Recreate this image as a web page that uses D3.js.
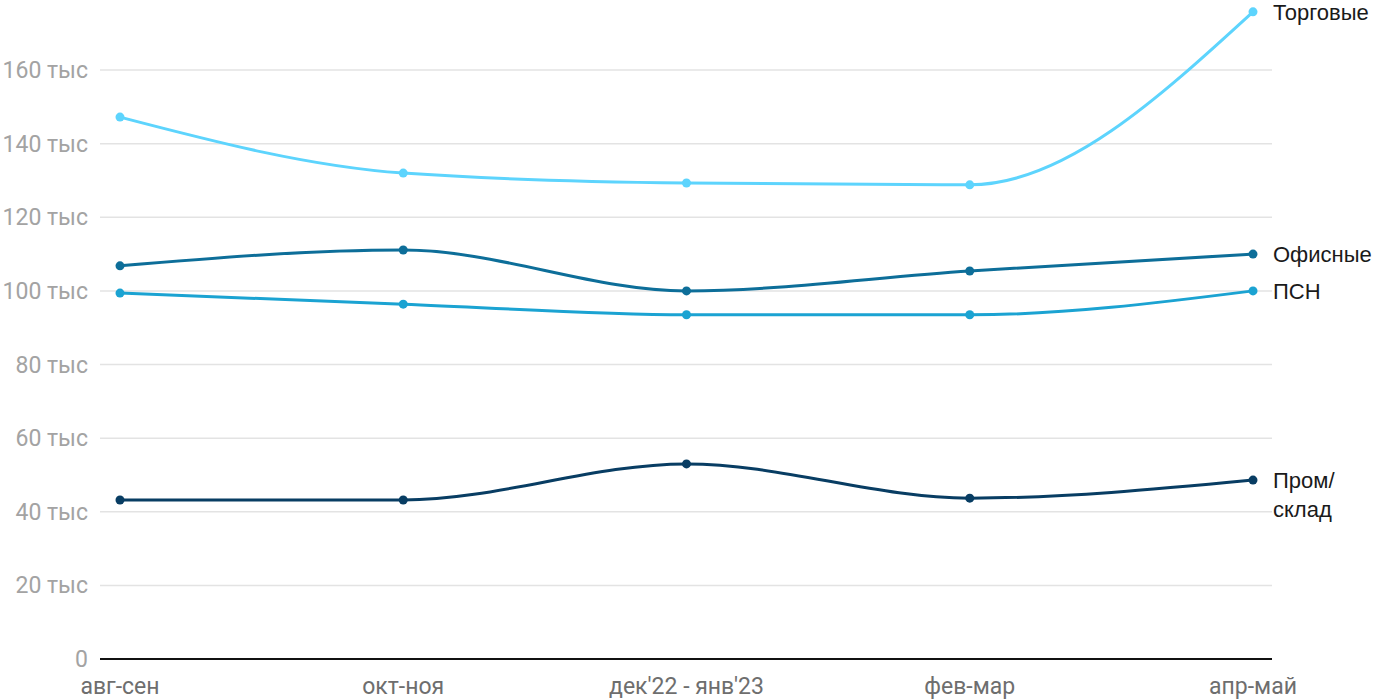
<!DOCTYPE html>
<html><head><meta charset="utf-8">
<script src="https://cdn.jsdelivr.net/npm/d3@7"></script>
<style>body{margin:0;background:#fff}svg{display:block}</style>
</head><body>
<svg id="c" width="1400" height="700"></svg>
<script>
const categories = ["авг-сен","окт-ноя","дек'22 - янв'23","фев-мар","апр-май"];
const torgovye = [147.2, 132.0, 129.3, 128.8, 175.8];
const ofisnye = [106.8, 111.1, 100.0, 105.4, 110.0];
const psn = [99.4, 96.4, 93.5, 93.5, 100.0];
const promSklad = [43.2, 43.2, 53.0, 43.7, 48.6];
const yTicks = [0, 20, 40, 60, 80, 100, 120, 140, 160];
const seriesNames = [["Торговые"],["Офисные"],["ПСН"],["Пром/","склад"]];
const colors = ["#5dd4fd","#0d6e99","#1ba3d2","#083d63"];

const series = [torgovye, ofisnye, psn, promSklad];
const svg = d3.select("#c");
const left = 100, right = 1272;
const x = d3.scalePoint().domain(categories).range([120, 1253]);
const y = d3.scaleLinear().domain([0, 160]).range([659, 70]);

const g = svg.append("g");
g.selectAll("line.grid").data(yTicks.filter(t => t > 0)).join("line")
  .attr("x1", left).attr("x2", right)
  .attr("y1", d => y(d)).attr("y2", d => y(d))
  .attr("stroke", "#e3e3e3").attr("stroke-width", 1.5);
g.selectAll("text.yl").data(yTicks).join("text")
  .attr("x", 88).attr("y", d => y(d)).attr("dy", "0.35em")
  .attr("text-anchor", "end")
  .attr("font-family", "Roboto, sans-serif").attr("font-size", 23)
  .attr("fill", "#a3a3a3")
  .text(d => d === 0 ? "0" : d + " тыс");
g.append("line").attr("x1", left).attr("x2", right)
  .attr("y1", y(0)).attr("y2", y(0)).attr("stroke", "#111").attr("stroke-width", 2);
g.selectAll("text.xl").data(categories).join("text")
  .attr("x", d => x(d)).attr("y", 694)
  .attr("text-anchor", "middle")
  .attr("font-family", "Roboto, sans-serif").attr("font-size", 23)
  .attr("fill", "#6e6e6e")
  .text(d => d);

const line = d3.line().x((d, i) => x(categories[i])).y(d => y(d)).curve(d3.curveMonotoneX);
series.forEach((s, k) => {
  g.append("path").attr("d", line(s)).attr("fill", "none")
    .attr("stroke", colors[k]).attr("stroke-width", 3);
  g.selectAll(null).data(s).join("circle")
    .attr("cx", (d, i) => x(categories[i])).attr("cy", d => y(d)).attr("r", 4.5)
    .attr("fill", colors[k]);
  const t = g.append("text")
    .attr("x", 1273).attr("y", y(s[s.length - 1]))
    .attr("font-family", "'Liberation Sans', Arial, sans-serif").attr("font-size", 22)
    .attr("fill", "#1a1a1a");
  seriesNames[k].forEach((ln, j) => {
    t.append("tspan").attr("x", 1273).attr("dy", j === 0 ? "0.35em" : "1.35em").text(ln);
  });
});
</script>
</body></html>
